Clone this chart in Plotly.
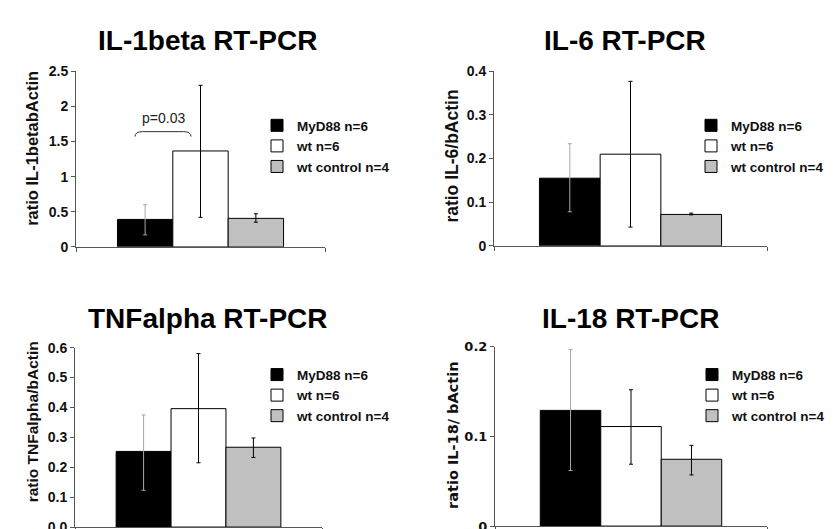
import plotly.graph_objects as go

W, H = 833, 529

groups = ["MyD88 n=6", "wt n=6", "wt control n=4"]
fills = ["#000000", "#ffffff", "#c0c0c0"]
err_colors = ["#a8a8a8", "#000000", "#000000"]

titles = ["IL-1beta RT-PCR", "IL-6 RT-PCR", "TNFalpha RT-PCR", "IL-18 RT-PCR"]
ytitles = ["ratio IL-1betabActin", "ratio IL-6/bActin", "ratio TNFalpha/bActin", "ratio IL-18/ bActin"]

# means and error-bar limits (MyD88, wt, wt control)
il1b_mean = [0.39, 1.365, 0.405]
il1b_high = [0.60, 2.30, 0.47]
il1b_low = [0.17, 0.42, 0.35]

il6_mean = [0.155, 0.21, 0.072]
il6_high = [0.234, 0.377, 0.075]
il6_low = [0.078, 0.043, 0.071]

tnf_mean = [0.253, 0.396, 0.267]
tnf_high = [0.375, 0.58, 0.298]
tnf_low = [0.123, 0.215, 0.233]

il18_mean = [0.129, 0.111, 0.0745]
il18_high = [0.197, 0.152, 0.090]
il18_low = [0.062, 0.069, 0.057]

y_ranges = [[0, 2.5], [0, 0.4], [0, 0.6], [0, 0.2]]
y_dticks = [0.5, 0.1, 0.1, 0.1]
y_formats = ["", "", ".1f", ""]

panels = [
    (il1b_mean, il1b_high, il1b_low),
    (il6_mean, il6_high, il6_low),
    (tnf_mean, tnf_high, tnf_low),
    (il18_mean, il18_high, il18_low),
]

# pixel layout of each plot area: (x0, x1, ytop, ybottom)
areas = [(68, 317, 57, 238), (486, 759, 57, 237), (67, 314, 342, 527), (487, 759, 341, 526)]

fig = go.Figure()
AR = "Liberation Sans, Arial, sans-serif"
VD = "DejaVu Sans, Verdana, sans-serif"

for p, (means, highs, lows) in enumerate(panels):
    sfx = "" if p == 0 else str(p + 1)
    for g in range(3):
        fig.add_trace(go.Bar(
            x=[0], y=[means[g]], name=groups[g],
            marker=dict(color=fills[g], line=dict(color="#000000", width=1)),
            error_y=dict(type="data", symmetric=False,
                         array=[highs[g] - means[g]], arrayminus=[means[g] - lows[g]],
                         color=err_colors[g], thickness=1, width=2),
            xaxis="x" + sfx, yaxis="y" + sfx,
            legend="legend" + sfx, showlegend=True,
        ))

layout = dict(width=W, height=H, margin=dict(l=0, r=0, t=0, b=0),
              paper_bgcolor="white", plot_bgcolor="white",
              barmode="group", bargap=0.333, bargroupgap=0, showlegend=True)

legend_pos = [(249, 97), (683, 97), (249, 354), (684, 354)]
for p in range(4):
    sfx = "" if p == 0 else str(p + 1)
    x0, x1, yt, yb = areas[p]
    tickfont = dict(family=VD if p == 3 else AR, size=13 if p == 3 else 14,
                    color="#111", weight="bold")
    layout["xaxis" + sfx] = dict(domain=[x0 / W, x1 / W], range=[-0.5, 0.5],
                                 anchor="y" + sfx, showline=True, linecolor="#555", linewidth=1,
                                 tickvals=[-0.5, 0.5], ticks="outside", ticklen=4, tickcolor="#555",
                                 showticklabels=False, showgrid=False, zeroline=False, fixedrange=True)
    layout["yaxis" + sfx] = dict(domain=[1 - yb / H, 1 - yt / H], range=y_ranges[p],
                                 anchor="x" + sfx, showline=True, linecolor="#555", linewidth=1,
                                 dtick=y_dticks[p], tick0=0, tickformat=y_formats[p],
                                 ticks="outside", ticklen=4, tickcolor="#555",
                                 tickfont=tickfont, showgrid=False, zeroline=False)
    lx, ly = legend_pos[p]
    layout["legend" + sfx] = dict(x=lx / W, y=1 - ly / H, xanchor="left", yanchor="top",
                                  font=dict(family=AR, size=13.5, color="#111", weight="bold"),
                                  bgcolor="rgba(0,0,0,0)", borderwidth=0,
                                  itemclick=False, itemdoubleclick=False)

fig.update_layout(**layout)
fig.update_layout(font=dict(family=AR))

# titles
title_pos = [(199, 25), (617, 25), (200, 312), (622, 312)]
for p in range(4):
    tx, ty = title_pos[p]
    fig.add_annotation(text="<b>" + titles[p] + "</b>", x=tx / W, y=1 - ty / H,
                       xref="paper", yref="paper", showarrow=False,
                       xanchor="center", yanchor="middle",
                       font=dict(family=AR, size=28, color="#000"))

# y-axis titles
yt_pos = [(24, 137), (444, 145), (24, 419), (445, 433)]
yt_sizes = [16.5, 17.5, 15.5, 14.5]
for p in range(4):
    tx, ty = yt_pos[p]
    fig.add_annotation(text="<b>" + ytitles[p] + "</b>", x=tx / W, y=1 - ty / H,
                       xref="paper", yref="paper", showarrow=False, textangle=-90,
                       xanchor="center", yanchor="middle",
                       font=dict(family=VD if p == 3 else AR, size=yt_sizes[p], color="#111"))

# significance bracket on IL-1beta panel
bx0, bx1 = -0.263, -0.038
by_top, by_end = 1.64, 1.57
fig.add_shape(type="path", xref="x", yref="y",
              path=(f"M {bx0},{by_end} Q {bx0},{by_top} {bx0 + 0.03},{by_top} "
                    f"L {bx1 - 0.03},{by_top} Q {bx1},{by_top} {bx1},{by_end}"),
              line=dict(color="#333", width=1))
fig.add_annotation(text="p=0.03", x=(bx0 + bx1) / 2, y=1.84, xref="x", yref="y",
                   showarrow=False, font=dict(family=AR, size=14, color="#222"))

fig.write_html("out.html")
